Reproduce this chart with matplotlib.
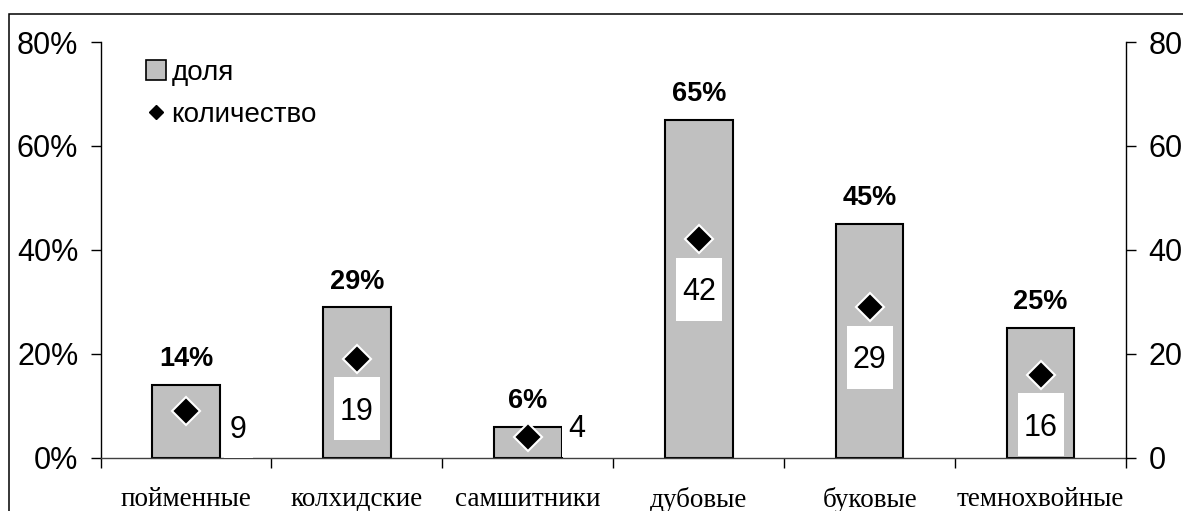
import matplotlib
matplotlib.use("Agg")
import matplotlib.pyplot as plt
from matplotlib.patches import Patch, Rectangle
from matplotlib.lines import Line2D
from matplotlib.transforms import ScaledTranslation
from matplotlib.ticker import FixedLocator, FuncFormatter

# данные
categories = ["пойменные", "колхидские", "самшитники", "дубовые", "буковые", "темнохвойные"]
shares = [14, 29, 6, 65, 45, 25]        # доля, %
counts = [9, 19, 4, 42, 29, 16]         # количество
count_label_pos = ["right", "below", "right", "below", "below", "below"]

# смещения подписей количества (пиксели)
label_offsets = {"right": [(52, -16), (49, 11)], "below": (0, -50)}

sans = "Liberation Sans"
serif = "Liberation Serif"

fig = plt.figure(figsize=(11.83, 5.11), dpi=100)
ax = fig.add_axes([0.085, 0.1043, 0.8669, 0.8135])
ax2 = ax.twinx()

x = list(range(len(categories)))

# столбцы - доля
ax.bar(x, shares, width=0.395, color="#c0c0c0", edgecolor="black", linewidth=1.5, zorder=2)
for xi, s in zip(x, shares):
    ax.annotate(f"{s}%", (xi, s), xytext=(0, 18.5), textcoords="offset pixels",
                ha="center", va="baseline", fontsize=19.5, fontweight="bold", family=sans)

ax.set_xlim(-0.5, len(categories) - 0.5)
ax.set_ylim(0, 80)
ax.set_yticks([0, 20, 40, 60, 80])
ax.yaxis.set_major_formatter(FuncFormatter(lambda v, p: f"{v:.0f}%"))
ax.tick_params(axis="y", length=7, width=1, pad=9, labelsize=22, direction="out")
for lab in ax.get_yticklabels():
    lab.set_family(sans)

ax.set_xticks(x)
ax.set_xticklabels(categories, family=serif, fontsize=19.5)
ax.tick_params(axis="x", which="major", length=0, pad=21)
ax.xaxis.set_minor_locator(FixedLocator([i - 0.5 for i in range(len(categories) + 1)]))
ax.tick_params(axis="x", which="minor", length=7.5, width=1, direction="out")

ax.spines["top"].set_visible(False)
ax.spines["right"].set_visible(False)
ax.spines["left"].set_linewidth(1)
ax.spines["bottom"].set_linewidth(1)
ax.spines["bottom"].set_color("#404040")

# ромбы - количество
ax2.plot(x, counts, linestyle="none", marker="D", markersize=14.5, markerfacecolor="black",
         markeredgecolor="white", markeredgewidth=1.5, zorder=5, clip_on=False)
ax2.set_ylim(0, 80)
ax2.set_yticks([0, 20, 40, 60, 80])
ax2.set_yticklabels(["0", "20", "40", "60", "80"], family=sans, fontsize=22)
ax2.tick_params(axis="y", length=7, width=1, pad=9, direction="out")
for side in ["top", "left", "bottom"]:
    ax2.spines[side].set_visible(False)
ax2.spines["right"].set_linewidth(1)

right_i = 0
for xi, c, pos in zip(x, counts, count_label_pos):
    if pos == "right":
        dx, dy = label_offsets["right"][right_i]
        right_i += 1
    else:
        dx, dy = label_offsets["below"]
    txt = str(c)
    w = 12 + 17 * len(txt)
    h = 63
    box = Rectangle((dx - w / 2, dy - h / 2), w, h, facecolor="white", edgecolor="none",
                    transform=ScaledTranslation(xi, c, ax2.transData), zorder=3, clip_on=False)
    ax2.add_artist(box)
    ax2.annotate(txt, (xi, c), xytext=(dx, dy - 11), textcoords="offset pixels",
                 ha="center", va="baseline", fontsize=22, family=sans, zorder=4)

# легенда
handles = [Patch(facecolor="#c0c0c0", edgecolor="black", linewidth=1.2),
           Line2D([], [], linestyle="none", marker="D", markersize=7, color="black")]
leg = ax2.legend(handles, ["доля", "количество"], loc="upper left",
                 bbox_to_anchor=(146 / 1183, 1 - 60 / 511), bbox_transform=fig.transFigure,
                 frameon=False, prop={"family": sans, "size": 20}, borderpad=0, borderaxespad=0,
                 handlelength=0.72, handleheight=0.72, handletextpad=0.2, labelspacing=0.58)

# рамка рисунка
fig.add_artist(Rectangle((9 / 1183, -0.2), 1.2, 1.2 - 14 / 511, transform=fig.transFigure,
                         fill=False, edgecolor="black", linewidth=1.1))

fig.savefig("out.png", dpi=100)
